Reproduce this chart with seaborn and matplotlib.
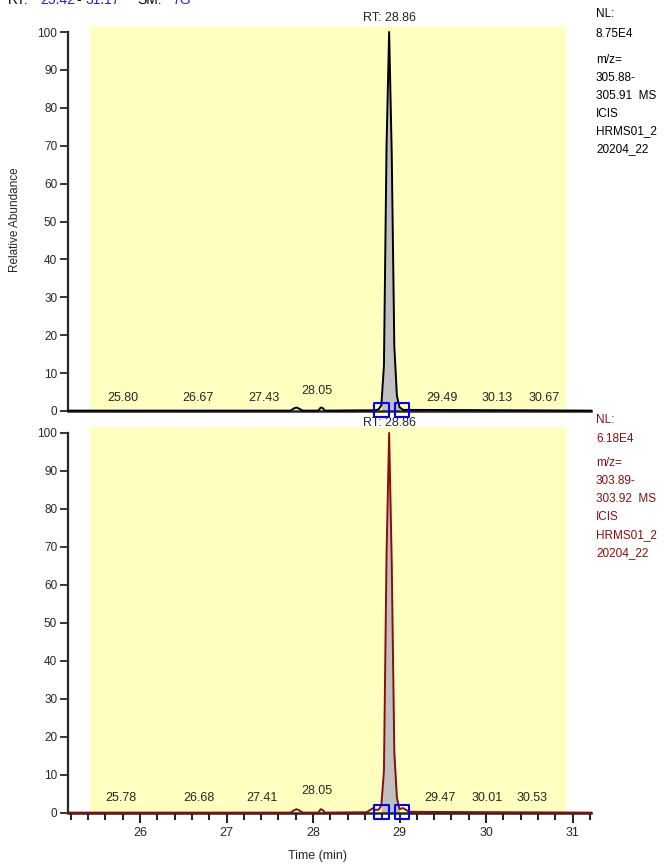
import matplotlib
matplotlib.use("Agg")
import matplotlib.pyplot as plt
import seaborn as sns
from matplotlib.ticker import MultipleLocator

# chromatogram traces (time in min, relative abundance in %)
top_time = [25.17, 27.74, 27.78, 27.81, 27.84, 27.88, 28.06, 28.09, 28.11, 28.14,
            28.73, 28.76, 28.79, 28.82, 28.85, 28.88, 28.91, 28.94, 28.97, 29.00,
            29.04, 31.22]
top_int = [0.1, 0.1, 0.7, 0.9, 0.6, 0.1, 0.1, 0.9, 0.8, 0.1,
           0.2, 0.5, 1.5, 12.0, 70.0, 100.0, 68.0, 17.0, 4.0, 1.0,
           0.3, 0.1]

bot_time = [25.17, 27.74, 27.78, 27.81, 27.84, 27.88, 28.06, 28.09, 28.11, 28.14,
            28.62, 28.66, 28.69, 28.72, 28.76, 28.79, 28.82, 28.85, 28.88, 28.91,
            28.94, 28.97, 29.00, 29.04, 29.07, 29.11, 31.22]
bot_int = [0.1, 0.1, 0.7, 1.0, 0.7, 0.1, 0.1, 1.0, 0.8, 0.1,
           0.2, 0.8, 1.2, 0.8, 0.9, 2.0, 11.0, 68.0, 100.0, 66.0,
           16.0, 4.0, 1.0, 1.3, 0.9, 0.3, 0.1]

# integration boundaries (blue boxes)
peak_bounds = [28.79, 29.03]
top_fill = (28.79, 29.00)
bot_fill = (28.79, 29.00)

# labelled peaks
top_labels = ["25.80", "26.67", "27.43", "28.05", "29.49", "30.13", "30.67"]
bot_labels = ["25.78", "26.68", "27.41", "28.05", "29.47", "30.01", "30.53"]
apex_label = "RT: 28.86"
apex_time = 28.88

top_info = ["NL:", "8.75E4", "m/z=", "305.88-", "305.91  MS", "ICIS", "HRMS01_2", "20204_22"]
bot_info = ["NL:", "6.18E4", "m/z=", "303.89-", "303.92  MS", "ICIS", "HRMS01_2", "20204_22"]

rt_range = (25.42, 30.92)
x_range = (25.171, 31.214)

sns.set_style("ticks")
plt.rcParams['font.family'] = ['Liberation Sans', 'DejaVu Sans']

W, H = 671, 866
fig = plt.figure(figsize=(W / 100, H / 100), dpi=100)
ax_top = fig.add_axes([0.1018, 0.5241, 0.779, 0.4455])
ax_bot = fig.add_axes([0.1018, 0.0599, 0.779, 0.4467])

yellow = "#ffffc0"
red = "#8b0d0d"
blue_txt = "#2222cc"


def setup(ax, show_x):
    ax.set_xlim(*x_range)
    ax.set_ylim(-0.3, 101.5)
    ax.fill_between(rt_range, 0, 101.5, color=yellow, lw=0, zorder=0)
    for s in ["top", "right"]:
        ax.spines[s].set_visible(False)
    ax.spines["left"].set_bounds(0, 100)
    ax.spines["left"].set_linewidth(1.6)
    ax.spines["bottom"].set_position(("data", 0))
    ax.spines["bottom"].set_linewidth(1.8)
    ax.set_yticks(range(0, 101, 10))
    ax.tick_params(axis="y", length=6, width=1.3, labelsize=8.5, pad=2)
    ax.xaxis.set_major_locator(MultipleLocator(1))
    ax.xaxis.set_minor_locator(MultipleLocator(0.2))
    if show_x:
        ax.tick_params(axis="x", which="major", length=7, width=1.5, labelsize=9, pad=3)
        ax.tick_params(axis="x", which="minor", length=5, width=1.5)
    else:
        ax.tick_params(axis="x", which="both", length=0, labelbottom=False)


def draw(ax, t, y, color, fill_rng, labels, lab_y, lab_y_hi):
    setup(ax, ax is ax_bot)
    pk_t = [a for a in t if fill_rng[0] <= a <= fill_rng[1]]
    pk_y = [b for a, b in zip(t, y) if fill_rng[0] <= a <= fill_rng[1]]
    ax.fill_between(pk_t, 0, pk_y, color="#c0c0c0", lw=0, zorder=2)
    sns.lineplot(x=t, y=y, ax=ax, color=color, lw=1.4, sort=False,
                 estimator=None, zorder=3, clip_on=False)
    sns.scatterplot(x=peak_bounds, y=[0.3, 0.3], ax=ax, marker="s", s=110,
                    color="none", edgecolor="#0000ff", linewidth=1.5,
                    zorder=4, clip_on=False)
    for lab in labels:
        yy = lab_y_hi if lab == "28.05" else lab_y
        ax.text(float(lab), yy, lab, ha="center", va="center", fontsize=9, zorder=5)
    ax.set_xlabel("")
    ax.set_ylabel("")


draw(ax_top, top_time, top_int, "black", top_fill, top_labels, 3.4, 5.3)
draw(ax_bot, bot_time, bot_int, red, bot_fill, bot_labels, 3.9, 5.8)

ax_top.text(apex_time, 103.7, apex_label, ha="center", va="center", fontsize=9, clip_on=False)
ax_bot.text(apex_time, 102.6, apex_label, ha="center", va="center", fontsize=9, clip_on=False)

# right-hand info blocks
info_y_top = [14, 34, 60, 78, 96, 114, 131, 149]
for txt, py in zip(top_info, info_y_top):
    fig.text(596 / W, 1 - py / H, txt, ha="left", va="center", fontsize=8.5, color="black")
info_y_bot = [420, 439, 463, 481, 499, 517, 535, 553]
for txt, py in zip(bot_info, info_y_bot):
    fig.text(596 / W, 1 - py / H, txt, ha="left", va="center", fontsize=8.5, color=red)

fig.text(15 / W, 1 - 220 / H, "Relative Abundance", rotation=90, ha="center", va="center", fontsize=8.5)
fig.text(318 / W, 1 - 856 / H, "Time (min)", ha="center", va="center", fontsize=9)

# clipped header line
hdr = [("RT:", 8, "black"), ("25.42", 40, blue_txt), ("-", 76, "black"),
       ("31.17", 85, blue_txt), ("SM:", 137, "black"), ("7G", 172, blue_txt)]
for txt, px, c in hdr:
    fig.text(px / W, 1 - 4 / H, txt, ha="left", va="baseline", fontsize=10, color=c)

fig.savefig("out.png", dpi=100)
